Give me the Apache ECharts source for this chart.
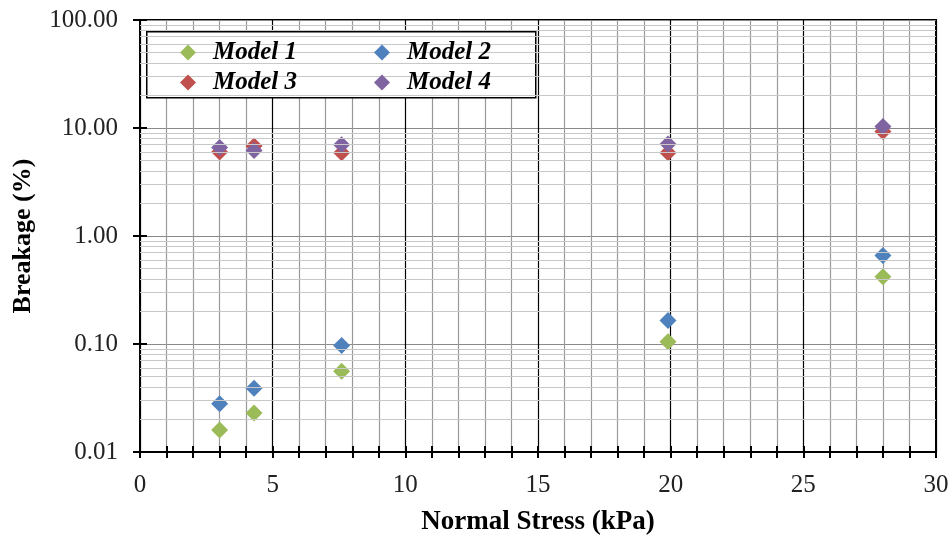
<!DOCTYPE html>
<html>
<head>
<meta charset="utf-8">
<script src="https://cdn.jsdelivr.net/npm/echarts@6/dist/echarts.min.js"></script>
<style>html,body{margin:0;padding:0;background:#fff;}#c{width:952px;height:536px;}</style>
</head>
<body>
<div id="c"></div>
<script>
const seriesNames = ['Model 1', 'Model 2', 'Model 3', 'Model 4'];
const stress = [3.0, 4.3, 7.6, 19.9, 28.0];
const model1 = [0.016, 0.023, 0.056, 0.105, 0.42];
const model2 = [0.028, 0.039, 0.097, 0.165, 0.66];
const model3 = [6.0, 6.8, 5.9, 5.9, 9.3];
const model4 = [6.6, 6.2, 7.0, 7.1, 10.3];
const colors = ['#9BBB59', '#4F81BD', '#C0504D', '#8064A2'];
const decades = [0.01, 0.1, 1, 10];

const minorLines = [];
decades.forEach(d => { for (let k = 2; k <= 9; k++) minorLines.push({ yAxis: +(d * k).toPrecision(3) }); });

const FONT = '"Liberation Serif", "Times New Roman", serif';
const vals = [model1, model2, model3, model4];

const series = seriesNames.map((n, i) => ({
  name: n,
  type: 'scatter',
  symbol: 'diamond',
  symbolSize: 17,
  z: 3,
  itemStyle: { color: colors[i], opacity: 1 },
  data: stress.map((x, j) => [x, vals[i][j]])
}));
series.unshift({
  type: 'scatter',
  name: '_grid',
  data: [],
  z: 1,
  silent: true,
  markLine: {
    silent: true,
    symbol: ['none', 'none'],
    label: { show: false },
    lineStyle: { color: '#c8c8c8', width: 1, type: 'solid' },
    emphasis: { disabled: true },
    animation: false,
    data: minorLines
  }
});

const legendText = { fontFamily: FONT, fontSize: 25, fontWeight: 'bold', fontStyle: 'italic', color: '#000', lineHeight: 18, padding: [0, 0, 0, 12] };
const legendCommon = {
  orient: 'vertical', top: 40, padding: 0, itemGap: 5,
  itemWidth: 16, itemHeight: 16, textStyle: legendText, z: 6
};

const chart = echarts.init(document.getElementById('c'));
chart.setOption({
  animation: false,
  backgroundColor: '#fff',
  grid: { left: 140, right: 16, top: 20, bottom: 84, outerBoundsMode: 'none', show: true, borderColor: '#000', borderWidth: 2, backgroundColor: 'transparent' },
  graphic: [{
    type: 'rect', left: 146, top: 31, z: 5,
    shape: { width: 389, height: 66 },
    style: { fill: '#fff', stroke: '#000', lineWidth: 1.5 }
  }],
  legend: [
    Object.assign({ data: [seriesNames[0], seriesNames[2]], left: 180 }, legendCommon),
    Object.assign({ data: [seriesNames[1], seriesNames[3]], left: 374 }, legendCommon)
  ],
  xAxis: [{
    type: 'value', min: 0, max: 30, interval: 1,
    name: 'Normal Stress (kPa)', nameLocation: 'middle', nameGap: 57,
    nameTextStyle: { fontFamily: FONT, fontSize: 27, fontWeight: 'bold', color: '#000' },
    axisLine: { show: true, lineStyle: { color: '#000', width: 2 } },
    axisTick: { show: true, length: 6, lineStyle: { color: '#000', width: 2 } },
    axisLabel: { fontFamily: FONT, fontSize: 25, color: '#222', margin: 21, formatter: v => (v % 5 === 0 ? String(v) : ''), interval: 0 },
    splitLine: { show: true, lineStyle: { color: ['#000', '#999', '#999', '#999', '#999'], width: 1.2 } }
  }, {
    type: 'value', min: 0, max: 30, interval: 1, position: 'bottom',
    axisLine: { show: false }, axisLabel: { show: false }, splitLine: { show: false },
    axisTick: { show: true, inside: true, length: 6, lineStyle: { color: '#000', width: 2 } }
  }],
  yAxis: [{
    type: 'log', logBase: 10, min: 0.01, max: 100,
    name: 'Breakage (%)', nameLocation: 'middle', nameGap: 104,
    nameTextStyle: { fontFamily: FONT, fontSize: 26, fontWeight: 'bold', color: '#000' },
    axisLine: { show: true, lineStyle: { color: '#000', width: 2 } },
    axisTick: { show: true, length: 7, lineStyle: { color: '#000', width: 2 } },
    axisLabel: { fontFamily: FONT, fontSize: 25, color: '#222', margin: 22, formatter: v => v.toFixed(2) },
    splitLine: { show: true, lineStyle: { color: '#8a8a8a', width: 1.2 } }
  }, {
    type: 'log', logBase: 10, min: 0.01, max: 100, position: 'left',
    axisLine: { show: false }, axisLabel: { show: false }, splitLine: { show: false },
    axisTick: { show: true, inside: true, length: 7, lineStyle: { color: '#000', width: 2 } }
  }],
  series: series
});
</script>
</body>
</html>
